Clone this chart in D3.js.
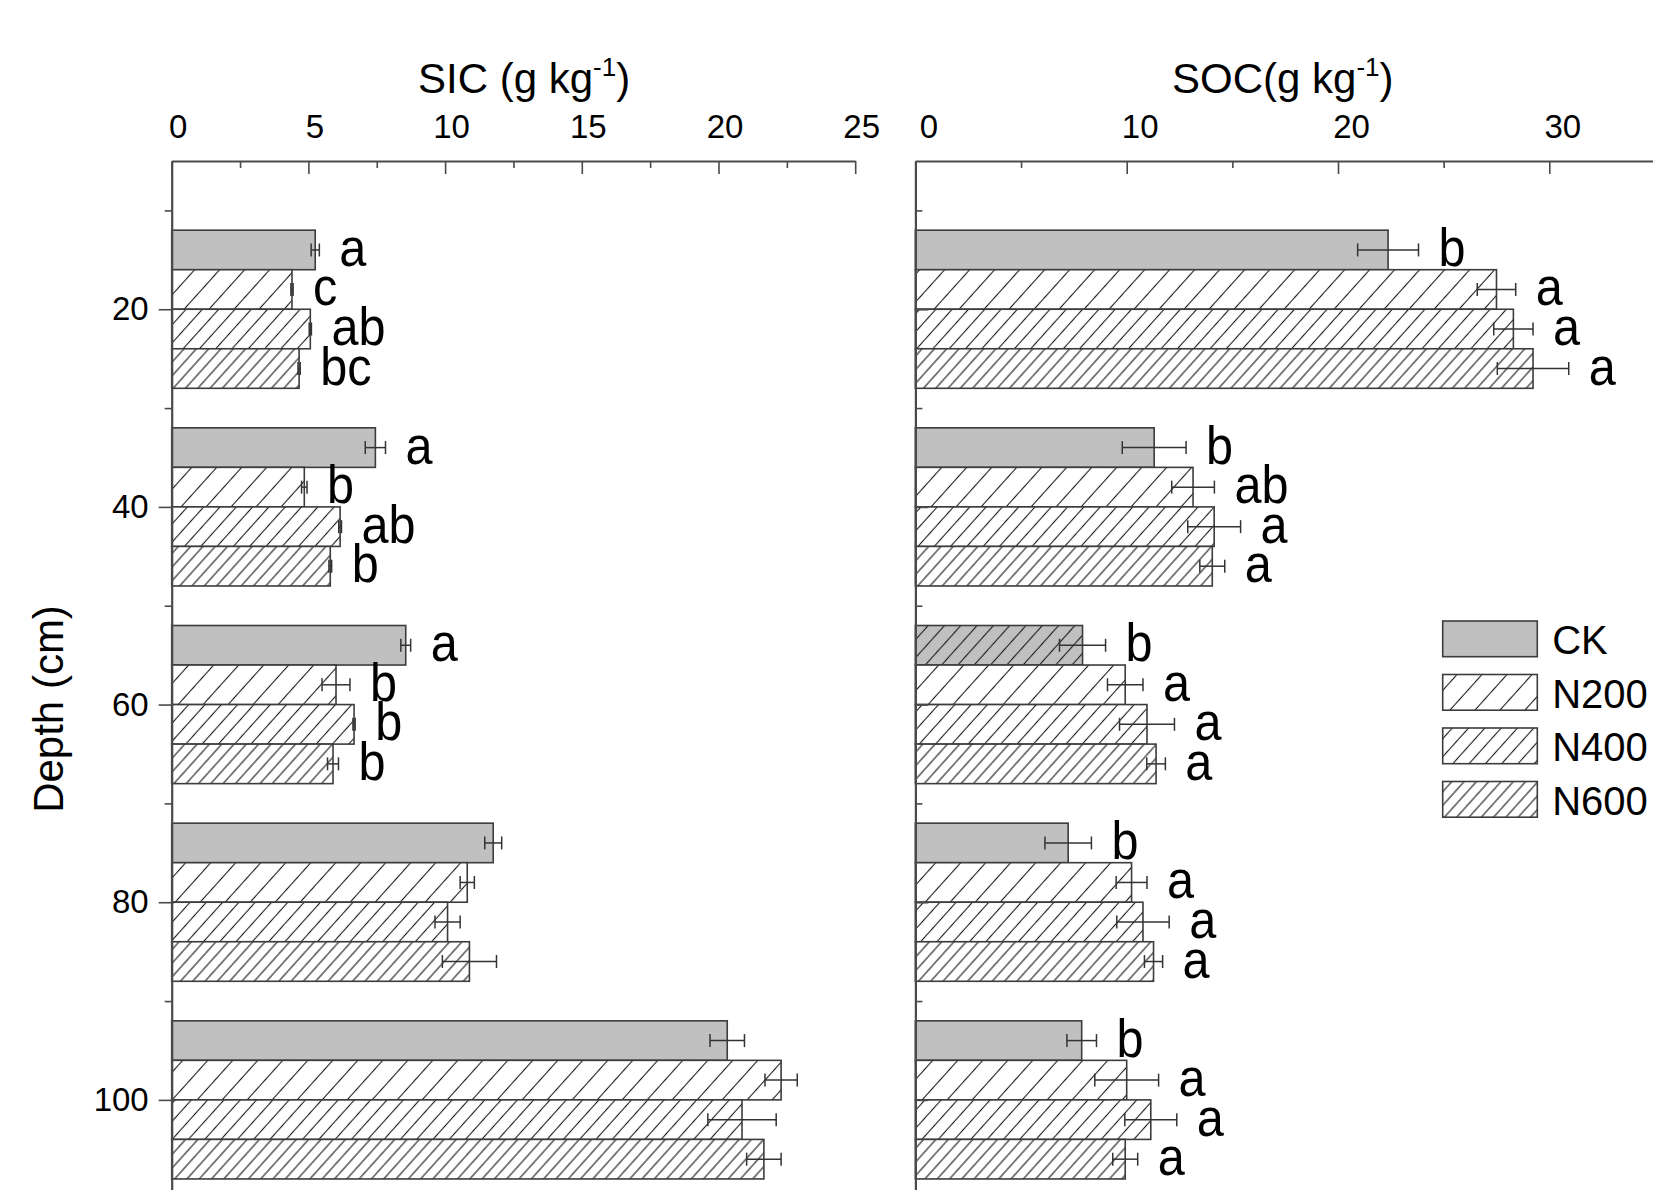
<!DOCTYPE html>
<html>
<head>
<meta charset="utf-8">
<script src="https://cdn.jsdelivr.net/npm/d3@7/dist/d3.min.js"></script>
<style>
  html, body { margin: 0; padding: 0; background: #fff; overflow: hidden; }
  svg { display: block; font-family: "Liberation Sans", Arial, Helvetica, sans-serif; }
</style>
</head>
<body>
<svg id="chart" width="1653" height="1190"></svg>
<script>
// ---------------- data ----------------
const depths = [20, 40, 60, 80, 100];
const treatments = ["CK", "N200", "N400", "N600"];

// SIC (g kg-1)
const sicCK   = [5.25, 7.45, 8.56, 11.76, 20.32];
const sicN200 = [4.40, 4.85, 6.01, 10.81, 22.29];
const sicN400 = [5.07, 6.16, 6.67, 10.09, 20.86];
const sicN600 = [4.66, 5.80, 5.90, 10.89, 21.66];
const sicErrCK   = [0.15, 0.37, 0.18, 0.31, 0.63];
const sicErrN200 = [0.04, 0.10, 0.51, 0.26, 0.59];
const sicErrN400 = [0.04, 0.05, 0.04, 0.46, 1.25];
const sicErrN600 = [0.04, 0.05, 0.20, 0.99, 0.63];
const sicLetCK   = ["a", "a", "a", "", ""];
const sicLetN200 = ["c", "b", "b", "", ""];
const sicLetN400 = ["ab", "ab", "b", "", ""];
const sicLetN600 = ["bc", "b", "b", "", ""];

// SOC (g kg-1)
const socCK   = [22.37, 11.30, 7.91, 7.23, 7.87];
const socN200 = [27.50, 13.14, 9.93, 10.23, 10.00];
const socN400 = [28.30, 14.14, 10.96, 10.77, 11.14];
const socN600 = [29.23, 14.05, 11.39, 11.27, 9.93];
const socErrCK   = [1.44, 1.51, 1.09, 1.10, 0.70];
const socErrN200 = [0.91, 1.01, 0.84, 0.73, 1.51];
const socErrN400 = [0.93, 1.25, 1.30, 1.24, 1.23];
const socErrN600 = [1.69, 0.59, 0.44, 0.43, 0.59];
const socLetCK   = ["b", "b", "b", "b", "b"];
const socLetN200 = ["a", "ab", "a", "a", "a"];
const socLetN400 = ["a", "a", "a", "a", "a"];
const socLetN600 = ["a", "a", "a", "a", "a"];

// axis ticks
const sicTicks = [0, 5, 10, 15, 20, 25];
const sicMinor = [2.5, 7.5, 12.5, 17.5, 22.5];
const socTicks = [0, 10, 20, 30];
const socMinor = [5, 15, 25, 35];
const depthTicks = [20, 40, 60, 80, 100];
const depthMinor = [10, 30, 50, 70, 90];

// ---------------- build ----------------
function rows(means, errs, lets) {
  const out = [];
  depths.forEach((d, i) => {
    treatments.forEach((t, j) => {
      out.push({ depth: d, trt: t, v: means[j][i], e: errs[j][i], lab: lets[j][i] });
    });
  });
  return out;
}
const sicData = rows([sicCK, sicN200, sicN400, sicN600],
                     [sicErrCK, sicErrN200, sicErrN400, sicErrN600],
                     [sicLetCK, sicLetN200, sicLetN400, sicLetN600]);
const socData = rows([socCK, socN200, socN400, socN600],
                     [socErrCK, socErrN200, socErrN400, socErrN600],
                     [socLetCK, socLetN200, socLetN400, socLetN600]);

const svg = d3.select("#chart");
const FONT = '"Liberation Sans", Arial, Helvetica, sans-serif';
const AXC = "#4a4a4a";

// hatch patterns
const defs = svg.append("defs");
function hatch(id, spacing, angle) {
  const p = defs.append("pattern").attr("id", id)
    .attr("patternUnits", "userSpaceOnUse")
    .attr("width", spacing).attr("height", 20)
    .attr("patternTransform", `rotate(${angle})`);
  p.append("line").attr("x1", spacing / 2).attr("x2", spacing / 2)
    .attr("y1", -2).attr("y2", 22)
    .attr("stroke", "#1a1a1a").attr("stroke-width", 1.1);
}
const ANG = 42;
hatch("h200", 25 * Math.cos(ANG * Math.PI / 180), ANG);
hatch("h400", 16.3 * Math.cos(ANG * Math.PI / 180), ANG);
hatch("h600", 12.3 * Math.cos(ANG * Math.PI / 180), ANG);

const fillOf = { CK: "#c0c0c0", N200: "url(#h200)", N400: "url(#h400)", N600: "url(#h600)" };

// shared depth scale
const yTop = 161;
const y = d3.scaleLinear().domain([5, 110]).range([yTop, yTop + 105 * 9.883]);
const sub = d3.scaleBand().domain(treatments).range([-8, 8]).padding(0);

function panel(opts) {
  const { data, x, ticks, minor, labelDx, leftLabels, specialHatch } = opts;
  const g = svg.append("g");
  const x0 = x(0);

  // bars
  const bars = g.append("g");
  data.forEach(d => {
    const top = y(d.depth + sub(d.trt));
    const h = y(d.depth + sub(d.trt) + sub.bandwidth()) - top;
    const w = x(d.v) - x0;
    bars.append("rect").attr("x", x0).attr("y", top).attr("width", w).attr("height", h)
      .attr("fill", d.trt === "CK" ? "#c0c0c0" : "#fff");
    if (d.trt !== "CK" || (specialHatch && specialHatch(d))) {
      bars.append("rect").attr("x", x0).attr("y", top).attr("width", w).attr("height", h)
        .attr("fill", d.trt === "CK" ? "url(#h400)" : fillOf[d.trt]);
    }
    bars.append("rect").attr("x", x0).attr("y", top).attr("width", w).attr("height", h)
      .attr("fill", "none").attr("stroke", "#3c3c3c").attr("stroke-width", 1.6);
  });

  // error bars
  const eg = g.append("g").attr("stroke", "#333").attr("stroke-width", 1.5).attr("fill", "none");
  data.forEach(d => {
    const cy = y(d.depth + sub(d.trt) + sub.bandwidth() / 2);
    const xl = x(d.v - d.e), xr = x(d.v + d.e);
    eg.append("line").attr("x1", xl).attr("x2", xr).attr("y1", cy).attr("y2", cy);
    eg.append("line").attr("x1", xl).attr("x2", xl).attr("y1", cy - 6.5).attr("y2", cy + 6.5);
    eg.append("line").attr("x1", xr).attr("x2", xr).attr("y1", cy - 6.5).attr("y2", cy + 6.5);
  });

  // significance letters (slightly condensed, as in the original)
  g.append("g").selectAll("text").data(data.filter(d => d.lab)).join("text")
    .attr("transform", d => `translate(${x(d.v + d.e) + 20},${y(d.depth + sub(d.trt) + sub.bandwidth() / 2) + 16}) scale(0.9,1)`)
    .attr("font-size", 54).attr("font-family", FONT).attr("fill", "#000")
    .text(d => d.lab);

  // top axis (ticks pointing down, labels above)
  const topAx = g.append("g").attr("transform", `translate(0,${yTop})`)
    .call(d3.axisTop(x).tickValues(ticks).tickSize(-13).tickSizeOuter(0).tickPadding(23.5)
      .tickFormat(d3.format("d")));
  topAx.select(".domain").attr("stroke", AXC).attr("stroke-width", 2.2);
  topAx.selectAll(".tick line").attr("stroke", AXC).attr("stroke-width", 1.6);
  topAx.selectAll(".tick text").attr("font-size", 33).attr("font-family", FONT)
    .attr("fill", "#000").attr("dx", labelDx);
  const topMin = g.append("g").attr("transform", `translate(0,${yTop})`)
    .call(d3.axisTop(x).tickValues(minor).tickSize(-7).tickFormat(""));
  topMin.select(".domain").remove();
  topMin.selectAll(".tick line").attr("stroke", AXC).attr("stroke-width", 1.6);

  // left axis
  if (leftLabels) {
    const la = g.append("g").attr("transform", `translate(${x0},0)`)
      .call(d3.axisLeft(y).tickValues(depthTicks).tickSize(13).tickSizeOuter(0).tickPadding(10));
    la.select(".domain").attr("stroke", AXC).attr("stroke-width", 2.2);
    la.selectAll(".tick line").attr("stroke", AXC).attr("stroke-width", 1.6);
    la.selectAll(".tick text").attr("font-size", 33).attr("font-family", FONT).attr("fill", "#000");
    const lm = g.append("g").attr("transform", `translate(${x0},0)`)
      .call(d3.axisLeft(y).tickValues(depthMinor).tickSize(7).tickFormat(""));
    lm.select(".domain").remove();
    lm.selectAll(".tick line").attr("stroke", AXC).attr("stroke-width", 1.6);
  } else {
    const ra = g.append("g").attr("transform", `translate(${x0},0)`)
      .call(d3.axisRight(y).tickValues(depthTicks).tickSize(13).tickSizeOuter(0).tickFormat(""));
    ra.select(".domain").attr("stroke", AXC).attr("stroke-width", 2.2);
    ra.selectAll(".tick line").attr("stroke", AXC).attr("stroke-width", 1.6);
    const rm = g.append("g").attr("transform", `translate(${x0},0)`)
      .call(d3.axisRight(y).tickValues(depthMinor).tickSize(7).tickFormat(""));
    rm.select(".domain").remove();
    rm.selectAll(".tick line").attr("stroke", AXC).attr("stroke-width", 1.6);
  }
  return g;
}

const xSIC = d3.scaleLinear().domain([0, 25]).range([171.7, 855.2]);
const xSOC = d3.scaleLinear().domain([0, 35]).range([915.4, 915.4 + 35 * 21.13]);

panel({ data: sicData, x: xSIC, ticks: sicTicks, minor: sicMinor, labelDx: 6, leftLabels: true });
panel({ data: socData, x: xSOC, ticks: socTicks, minor: socMinor, labelDx: 13, leftLabels: false,
        specialHatch: d => d.depth === 60 });

// axis titles
function unitTitle(xStart, main) {
  const t = svg.append("text").attr("x", xStart).attr("y", 93)
    .attr("font-size", 42).attr("font-family", FONT).attr("fill", "#000");
  t.append("tspan").text(main + "g kg");
  t.append("tspan").attr("font-size", 26).attr("dy", -17).text("-1");
  t.append("tspan").attr("dy", 17).text(")");
}
unitTitle(418, "SIC (");
unitTitle(1172, "SOC(");

svg.append("text").attr("transform", "translate(63,709) rotate(-90)")
  .attr("text-anchor", "middle").attr("font-size", 42).attr("font-family", FONT)
  .attr("fill", "#000").text("Depth (cm)");

// legend
const leg = svg.append("g").attr("transform", "translate(1442.7,621)");
treatments.forEach((t, i) => {
  const gy = i * 53.5;
  if (t === "CK") {
    leg.append("rect").attr("x", 0).attr("y", gy).attr("width", 94.6).attr("height", 35.7)
      .attr("fill", "#c0c0c0").attr("stroke", "#3c3c3c").attr("stroke-width", 1.6);
  } else {
    leg.append("rect").attr("x", 0).attr("y", gy).attr("width", 94.6).attr("height", 35.7)
      .attr("fill", "#fff");
    leg.append("rect").attr("x", 0).attr("y", gy).attr("width", 94.6).attr("height", 35.7)
      .attr("fill", fillOf[t]).attr("stroke", "#3c3c3c").attr("stroke-width", 1.6);
  }
  leg.append("text").attr("x", 109.5).attr("y", gy + 33)
    .attr("font-size", 40).attr("font-family", FONT).attr("fill", "#000").text(t);
});
</script>
</body>
</html>
